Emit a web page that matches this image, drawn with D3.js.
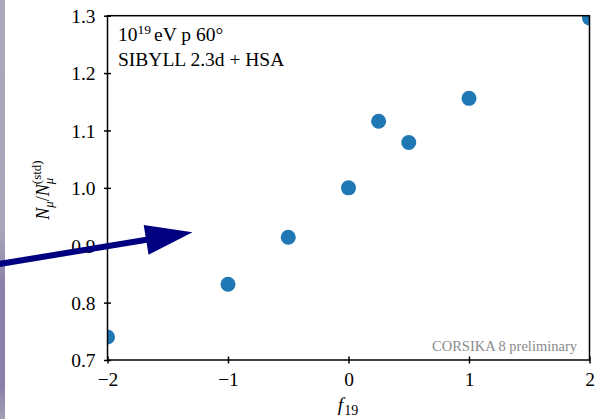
<!DOCTYPE html>
<html lang="en">
<head>
  <meta charset="UTF-8">
  <title>N_mu ratio vs f19</title>
  <style>
    body { margin: 0; background: #ffffff; }
    #thesvg { width: 597px; height: 419px; display: block; }
    text { font-family: "Liberation Serif", "DejaVu Serif", serif; fill: #000; }
  </style>
</head>
<body>
  <svg id="thesvg"></svg>
  <script src="https://cdn.jsdelivr.net/npm/d3@7/dist/d3.min.js"></script>
  <script>

    // values
    var f19 = [-2, -1, -0.5, 0, 0.25, 0.5, 1, 2];
    var ratio = [0.740, 0.832, 0.914, 1.000, 1.116, 1.079, 1.156, 1.296];
    var xTicks = [-2, -1, 0, 1, 2];
    var yTicks = [0.7, 0.8, 0.9, 1.0, 1.1, 1.2, 1.3];
    var infoLines = ["eV p 60°", "SIBYLL 2.3d + HSA"];

    var W = 597, H = 419;
    var pLeft = 107.5, pRight = 589.5, pTop = 15.7, pBottom = 360;

    var svg = d3.select("svg").attr("width", W).attr("height", H);

    var x = d3.scaleLinear().domain([-2, 2]).range([pLeft, pRight]);
    var y = d3.scaleLinear().domain([0.7, 1.3]).range([pBottom, pTop]);

    // slide background peeking in on the left edge
    var defs = svg.append("defs");
    var grad = defs.append("linearGradient")
      .attr("id", "strip").attr("x1", 0).attr("y1", 0).attr("x2", 0).attr("y2", 1);
    [[0, "#aba8ba"], [0.55, "#aaa6b9"], [0.68, "#8b80a9"], [0.92, "#8a7fa8"], [1, "#a39fb4"]]
      .forEach(function(s) {
        grad.append("stop").attr("offset", s[0]).attr("stop-color", s[1]);
      });
    svg.append("rect").attr("x", 0).attr("y", 0).attr("width", 5).attr("height", H)
      .attr("fill", "url(#strip)");

    defs.append("clipPath").attr("id", "plotclip")
      .append("rect").attr("x", pLeft).attr("y", pTop)
      .attr("width", pRight - pLeft).attr("height", pBottom - pTop);

    // points
    svg.append("g").attr("clip-path", "url(#plotclip)")
      .selectAll("circle")
      .data(f19)
      .enter()
      .append("circle")
      .attr("cx", d => x(d))
      .attr("cy", (d, i) => y(ratio[i]))
      .attr("r", 7.5)
      .attr("fill", "#1f77b4");

    // axes (ticks drawn in-out like matplotlib direction='inout')
    var xAxis = svg.append("g").attr("transform", "translate(0," + pBottom + ")")
      .call(d3.axisBottom(x).tickValues(xTicks).tickSize(0).tickPadding(0)
        .tickFormat(d => d < 0 ? "\u2212" + Math.abs(d) : d));
    xAxis.select(".domain").remove();
    xAxis.selectAll(".tick line").attr("y1", -3.5).attr("y2", 3.5)
      .attr("stroke", "#000").attr("stroke-width", 1.5);
    xAxis.selectAll(".tick text").attr("y", 26).attr("dy", 0)
      .style("font-size", "19.5px").attr("fill", "#000");

    var yAxis = svg.append("g").attr("transform", "translate(" + pLeft + ",0)")
      .call(d3.axisLeft(y).tickValues(yTicks).tickSize(0).tickPadding(0)
        .tickFormat(d3.format(".1f")));
    yAxis.select(".domain").remove();
    yAxis.selectAll(".tick line").attr("x1", -3.5).attr("x2", 3.5)
      .attr("stroke", "#000").attr("stroke-width", 1.5);
    yAxis.selectAll(".tick text").attr("x", -12).attr("dy", "0.35em")
      .style("font-size", "19.5px").attr("fill", "#000");

    // frame
    svg.append("rect").attr("x", pLeft).attr("y", pTop)
      .attr("width", pRight - pLeft).attr("height", pBottom - pTop)
      .attr("fill", "none").attr("stroke", "#000").attr("stroke-width", 1.5);

    // info text
    var t1 = svg.append("text").attr("x", 118).attr("y", 40.5).style("font-size", "19.5px");
    t1.append("tspan").text("10");
    t1.append("tspan").attr("dy", -7).style("font-size", "13.5px").text("19");
    t1.append("tspan").attr("dy", 7).attr("dx", 3).text(infoLines[0]);
    svg.append("text").attr("x", 118).attr("y", 65.5).style("font-size", "19.5px")
      .text(infoLines[1]);

    svg.append("text").attr("x", 577).attr("y", 351)
      .attr("text-anchor", "end").style("font-size", "14.5px")
      .style("fill", "#8a8a8a").text("CORSIKA 8 preliminary");

    // x label: f_19
    var xl = svg.append("text").attr("x", 348).attr("y", 411)
      .attr("text-anchor", "middle").style("font-size", "19.5px");
    xl.append("tspan").style("font-style", "italic").text("f");
    xl.append("tspan").attr("dy", 4).attr("dx", 1).style("font-size", "14px").text("19");

    // y label: N_mu / N_mu^(std)
    var yl = svg.append("text")
      .attr("transform", "translate(49,190) rotate(-90)")
      .attr("text-anchor", "middle").style("font-size", "18px");
    yl.append("tspan").style("font-style", "italic").text("N");
    yl.append("tspan").attr("dy", 4).style("font-size", "13px").style("font-style", "italic").text("μ");
    yl.append("tspan").attr("dy", -4).text("/");
    yl.append("tspan").style("font-style", "italic").text("N");
    var mu2 = yl.append("tspan").attr("dy", 4).style("font-size", "13px")
      .style("font-style", "italic").text("μ");
    var muW = mu2.node().getComputedTextLength();
    yl.append("tspan").attr("dy", -12).attr("dx", -muW).style("font-size", "13px").text("(std)");

    // annotation arrow overlaid on the slide
    var arrow = { x0: -4, y0: 264.5, x1: 192.5, y1: 232.3, headLen: 47, headW: 30, lw: 6 };
    var ang = Math.atan2(arrow.y1 - arrow.y0, arrow.x1 - arrow.x0);
    var bx = arrow.x1 - arrow.headLen * Math.cos(ang), by = arrow.y1 - arrow.headLen * Math.sin(ang);
    var px = -Math.sin(ang) * arrow.headW / 2, py = Math.cos(ang) * arrow.headW / 2;
    svg.append("line")
      .attr("x1", arrow.x0).attr("y1", arrow.y0)
      .attr("x2", bx + 2 * Math.cos(ang)).attr("y2", by + 2 * Math.sin(ang))
      .attr("stroke", "#000080").attr("stroke-width", arrow.lw);
    svg.append("polygon")
      .attr("points", [[arrow.x1, arrow.y1], [bx + px, by + py], [bx - px, by - py]].join(" "))
      .attr("fill", "#000080");
  </script>
</body>
</html>
